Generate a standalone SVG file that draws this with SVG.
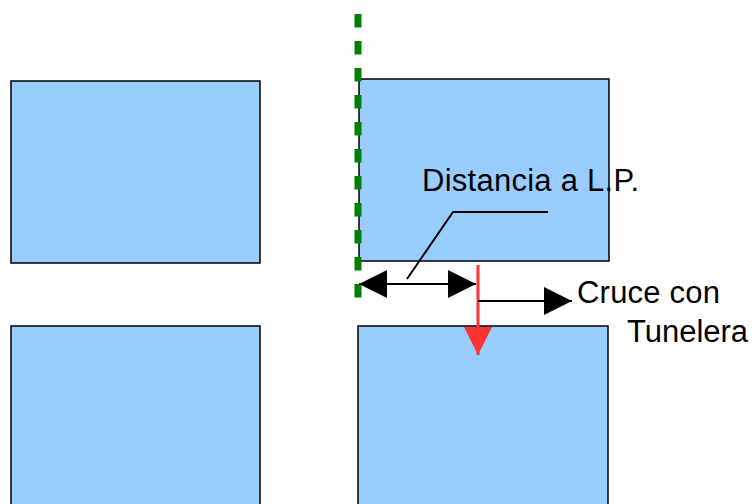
<svg xmlns="http://www.w3.org/2000/svg" width="752" height="504" viewBox="0 0 752 504">
<style>
.box{fill:#99ccff;stroke:#000;stroke-width:1.5}
.lbl{font-family:"Liberation Sans",Arial,sans-serif;font-size:31px;fill:#000}
.ln{stroke:#000;stroke-width:2;fill:none}
</style>
<defs>
<marker id="ah" viewBox="0 0 28 28" refX="28" refY="14" markerWidth="28" markerHeight="28" markerUnits="userSpaceOnUse" orient="auto-start-reverse">
<path d="M0,0 L28,14 L0,28 Z" fill="#000"/>
</marker>
<marker id="ahr" viewBox="0 0 28 28" refX="28" refY="14" markerWidth="28" markerHeight="28" markerUnits="userSpaceOnUse" orient="auto">
<path d="M0,0 L28,14 L0,28 Z" fill="#ff3333"/>
</marker>
</defs>
<rect width="752" height="504" fill="#fff"/>
<g id="box-top-left"><rect class="box" x="11" y="81" width="249" height="182"/></g>
<g id="box-top-right"><rect class="box" x="359" y="79" width="250" height="182"/></g>
<g id="box-bottom-left"><rect class="box" x="11" y="326" width="249" height="190"/></g>
<g id="box-bottom-right"><rect class="box" x="358" y="326" width="250" height="190"/></g>
<g id="connectors">
<line x1="358" y1="14" x2="358" y2="298" stroke="#008000" stroke-width="7" stroke-dasharray="13.5 13.5"/>
<line class="ln" x1="359" y1="284" x2="476" y2="284" marker-start="url(#ah)" marker-end="url(#ah)"/>
<line x1="478" y1="265" x2="478" y2="355" stroke="#ff3333" stroke-width="3" marker-end="url(#ahr)"/>
<line class="ln" x1="478" y1="301" x2="572" y2="301" marker-end="url(#ah)"/>
<polyline class="ln" points="548,212 453,212 407,279"/>
</g>
<g id="labels">
<text class="lbl" x="422" y="191" textLength="217" lengthAdjust="spacing">Distancia a L.P.</text>
<text class="lbl" x="577" y="303" textLength="143" lengthAdjust="spacing">Cruce con</text>
<text class="lbl" x="627" y="342" textLength="121" lengthAdjust="spacing">Tunelera</text>
</g>
</svg>
